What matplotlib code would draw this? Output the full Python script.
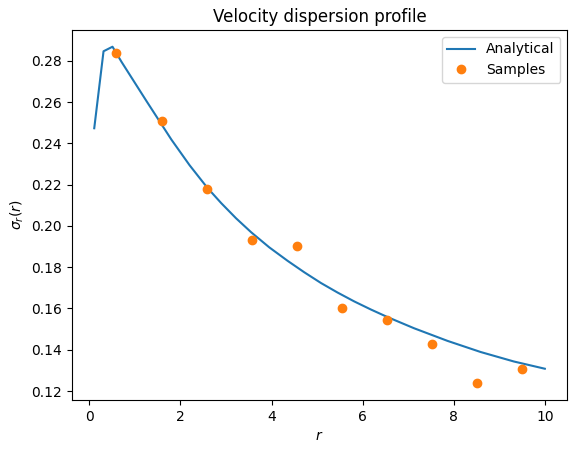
import matplotlib
matplotlib.use("Agg")
import matplotlib.pyplot as plt

# analytical curve, values
r_model = [0.107, 0.311, 0.508, 0.705, 1.253, 1.801, 2.2, 2.589, 2.896,
           3.22, 3.553, 3.95, 4.357, 4.72, 5.087, 5.45, 5.816, 6.18, 6.548,
           7.13, 7.862, 8.591, 9.321, 10.0]
sigma_model = [0.2473, 0.2846, 0.2868, 0.2795, 0.2605, 0.2418, 0.2294,
               0.2185, 0.2110, 0.2037, 0.1969, 0.1896, 0.1830, 0.1775,
               0.1723, 0.1677, 0.1634, 0.1595, 0.1558, 0.1504, 0.1443,
               0.1389, 0.1343, 0.1308]

# binned sample estimates
r_samples = [0.595, 1.585, 2.575, 3.565, 4.555, 5.545, 6.535, 7.525, 8.515, 9.505]
sigma_samples = [0.2836, 0.2508, 0.2177, 0.1932, 0.1901, 0.1601, 0.1544,
                 0.1427, 0.1238, 0.1307]

fig = plt.figure(figsize=(5.76, 4.53), dpi=100)
ax = fig.add_axes([0.1245, 0.117, 0.8605, 0.817])

ax.plot(r_model, sigma_model, label="Analytical")
ax.plot(r_samples, sigma_samples, "o", label="Samples")

ax.set_xlabel(r"$r$")
ax.set_ylabel(r"$\sigma_r(r)$")
ax.set_title("Velocity dispersion profile")
ax.legend(loc="upper right")

fig.savefig("out.png", dpi=100)
